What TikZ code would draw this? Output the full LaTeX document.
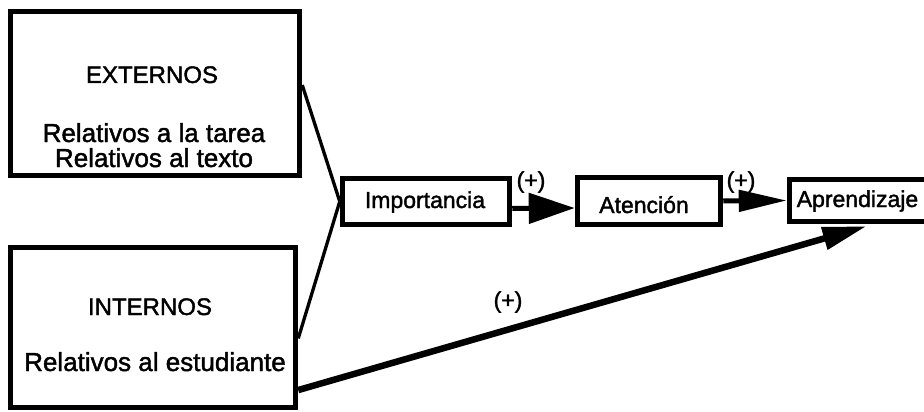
\documentclass[tikz,border=0pt]{standalone}
\usepackage{fontspec}
\setmainfont{Liberation Sans}
\newfontfamily\heavyfont{Liberation Sans}[FakeBold=1.6]
\usetikzlibrary{arrows.meta,calc}
\begin{document}
\begin{tikzpicture}[x=1pt,y=-1pt,
  bigbox/.style={draw, line width=5.5pt, inner sep=0pt},
  smallbox/.style={draw, line width=5.5pt, inner sep=0pt},
  bigtxt/.style={inner sep=0pt, anchor=base, font=\heavyfont\fontsize{26pt}{30pt}\selectfont},
  headtxt/.style={inner sep=0pt, anchor=base, font=\heavyfont\fontsize{24pt}{28pt}\selectfont},
  smalltxt/.style={inner sep=0pt, anchor=base, font=\heavyfont\fontsize{23pt}{27pt}\selectfont},
  thinlink/.style={line width=3.3pt},
  arrowlink/.style={line width=5pt},
  biglink/.style={line width=6.5pt}
]
\useasboundingbox (0,0) rectangle (924,412);
\begin{scope}
\clip (0,0) rectangle (924,412);
% boxes
\node[bigbox, minimum width=289pt, minimum height=164pt] (ext) at (155,93.5) {};
\node[bigbox, minimum width=285pt, minimum height=160pt] (int) at (153,327.5) {};
\node[smallbox, minimum width=167pt, minimum height=46pt] (imp) at (426,201.5) {};
\node[smallbox, minimum width=143pt, minimum height=47pt] (att) at (649,201) {};
\node[smallbox, minimum width=146pt, minimum height=42pt] (apr) at (862.5,200.5) {};
% texts
\node[headtxt] (extA) at (152,83) {EXTERNOS};
\node[bigtxt] (extB) at (154,142) {Relativos a la tarea};
\node[bigtxt] (extC) at (154,167) {Relativos al texto};
\node[headtxt] (intA) at (150,315) {INTERNOS};
\node[bigtxt] (intB) at (155,371) {Relativos al estudiante};
\node[smalltxt] (impT) at (425,208) {Importancia};
\node[smalltxt] (attT) at (644,213) {Atención};
\node[smalltxt] (aprT) at (857.5,207) {Aprendizaje};
\node[smalltxt] (p1) at (531,188) {(+)};
\node[smalltxt] (p2) at (741,188) {(+)};
\node[smalltxt] (p3) at (508,308) {(+)};
% connectors
\draw[thinlink] ($(ext.north east)!0.45!(ext.south east)$) -- (imp.west);
\draw[thinlink] ($(int.north east)!0.566!(int.south east)$) -- (imp.west);
\draw[arrowlink, -{Triangle[length=46pt,width=30pt]}] ([yshift=-7pt]imp.east) -- ([yshift=-7pt]att.west);
\draw[arrowlink, -{Triangle[length=48pt,width=21pt]}] (att.east) -- (apr.west);
\draw[biglink, -{Triangle[length=44pt,width=22pt]}] ($(int.north east)!0.878!(int.south east)$) -- ([xshift=4pt,yshift=-2pt]apr.south);
\end{scope}
\end{tikzpicture}
\end{document}
